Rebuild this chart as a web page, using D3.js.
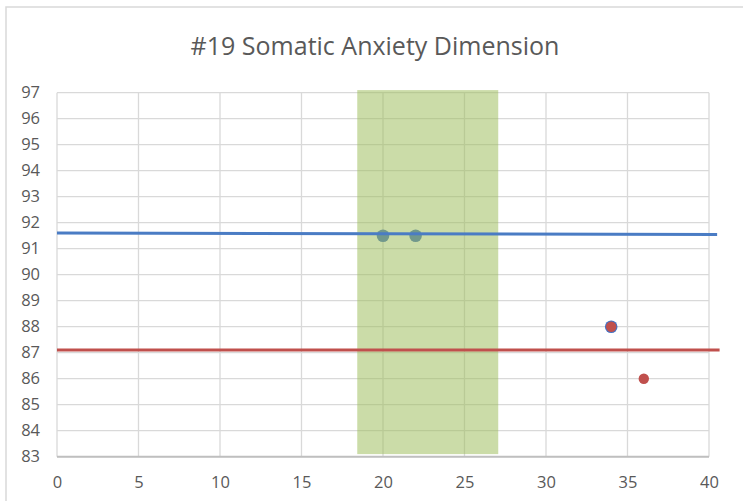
<!DOCTYPE html>
<html>
<head>
<meta charset="utf-8">
<script src="https://cdn.jsdelivr.net/npm/d3@7"></script>
<style>
  html, body { margin: 0; padding: 0; background: #fff; }
  svg { display: block; }
</style>
</head>
<body>
<svg id="chart" width="743" height="501"></svg>
<script>
// Axis ticks
const xTicks = [0, 5, 10, 15, 20, 25, 30, 35, 40];
const yTicks = [83, 84, 85, 86, 87, 88, 89, 90, 91, 92, 93, 94, 95, 96, 97];

// Shaded range on the x axis (x from/to, y from/to)
const bandX = [18.42, 27.07];
const bandY = [83.1, 97.1];

// Reference lines: [x, y] end points
const blueLine = [[0, 91.6], [40.5, 91.55]];
const redLine = [[0, 87.1], [40.65, 87.1]];

// Observations
const bluePoints = [[20, 91.5], [22, 91.5], [34, 88]];
const redPoints = [[34, 88], [36, 86]];

const title = "#19 Somatic Anxiety Dimension";

const svg = d3.select("#chart");
const margin = { left: 57, right: 743 - 709, top: 92.7, bottom: 501 - 456.7 };
const W = 743, H = 501;

const x = d3.scaleLinear().domain([0, 40]).range([margin.left, W - margin.right]);
const y = d3.scaleLinear().domain([83, 97]).range([H - margin.bottom, margin.top]);

const font = "'Open Sans', 'Liberation Sans', sans-serif";

// Outer frame
svg.append("rect")
  .attr("x", 6).attr("y", 7)
  .attr("width", W + 10).attr("height", H + 10)
  .attr("fill", "none").attr("stroke", "#d9d9d9").attr("stroke-width", 1.5);

// Title
svg.append("text")
  .attr("x", 375).attr("y", 55)
  .attr("text-anchor", "middle")
  .attr("font-family", font)
  .attr("font-size", 25)
  .attr("fill", "#595959")
  .text(title);

// Gridlines
const grid = svg.append("g");
grid.selectAll("line.h").data(yTicks).join("line")
  .attr("x1", x(0)).attr("x2", x(40))
  .attr("y1", d => y(d)).attr("y2", d => y(d))
  .attr("stroke", "#d9d9d9").attr("stroke-width", 1.3);
grid.selectAll("line.v").data(xTicks).join("line")
  .attr("x1", d => x(d)).attr("x2", d => x(d))
  .attr("y1", y(83)).attr("y2", y(97))
  .attr("stroke", "#d9d9d9").attr("stroke-width", 1.3);

// Bottom axis line
svg.append("line")
  .attr("x1", x(0)).attr("x2", x(40))
  .attr("y1", y(83)).attr("y2", y(83))
  .attr("stroke", "#bfbfbf").attr("stroke-width", 2);

// Tick labels via d3 axes
const xAxis = svg.append("g")
  .attr("transform", `translate(0,${y(83)})`)
  .call(d3.axisBottom(x).tickValues(xTicks).tickSize(0).tickPadding(20).tickFormat(d3.format("d")));
xAxis.select(".domain").remove();
xAxis.selectAll("text").attr("font-family", font).attr("font-size", 16.5).attr("fill", "#595959");

const yAxis = svg.append("g")
  .attr("transform", `translate(${x(0)},0)`)
  .call(d3.axisLeft(y).tickValues(yTicks).tickSize(0).tickPadding(17).tickFormat(d3.format("d")));
yAxis.select(".domain").remove();
yAxis.selectAll("text").attr("font-family", font).attr("font-size", 16.5).attr("fill", "#595959");

// Observation markers (beneath the shaded range)
svg.append("g").selectAll("circle").data(bluePoints).join("circle")
  .attr("cx", d => x(d[0])).attr("cy", d => y(d[1]))
  .attr("r", 6.3).attr("fill", "#4472c4");
svg.append("g").selectAll("circle").data(redPoints).join("circle")
  .attr("cx", d => x(d[0])).attr("cy", d => y(d[1]))
  .attr("r", 5.2).attr("fill", "#c0504d");

// Shaded range
svg.append("rect")
  .attr("x", x(bandX[0])).attr("y", y(bandY[1]))
  .attr("width", x(bandX[1]) - x(bandX[0]))
  .attr("height", y(bandY[0]) - y(bandY[1]))
  .attr("fill", "#9bbb59").attr("fill-opacity", 0.52);

// Reference lines
const line = d3.line().x(d => x(d[0])).y(d => y(d[1]));
svg.append("path").datum(blueLine).attr("d", line)
  .attr("fill", "none").attr("stroke", "#4a7cc4").attr("stroke-width", 3);
svg.append("path").datum(redLine).attr("d", line)
  .attr("fill", "none").attr("stroke", "#c0504d").attr("stroke-width", 3);
</script>
</body>
</html>
